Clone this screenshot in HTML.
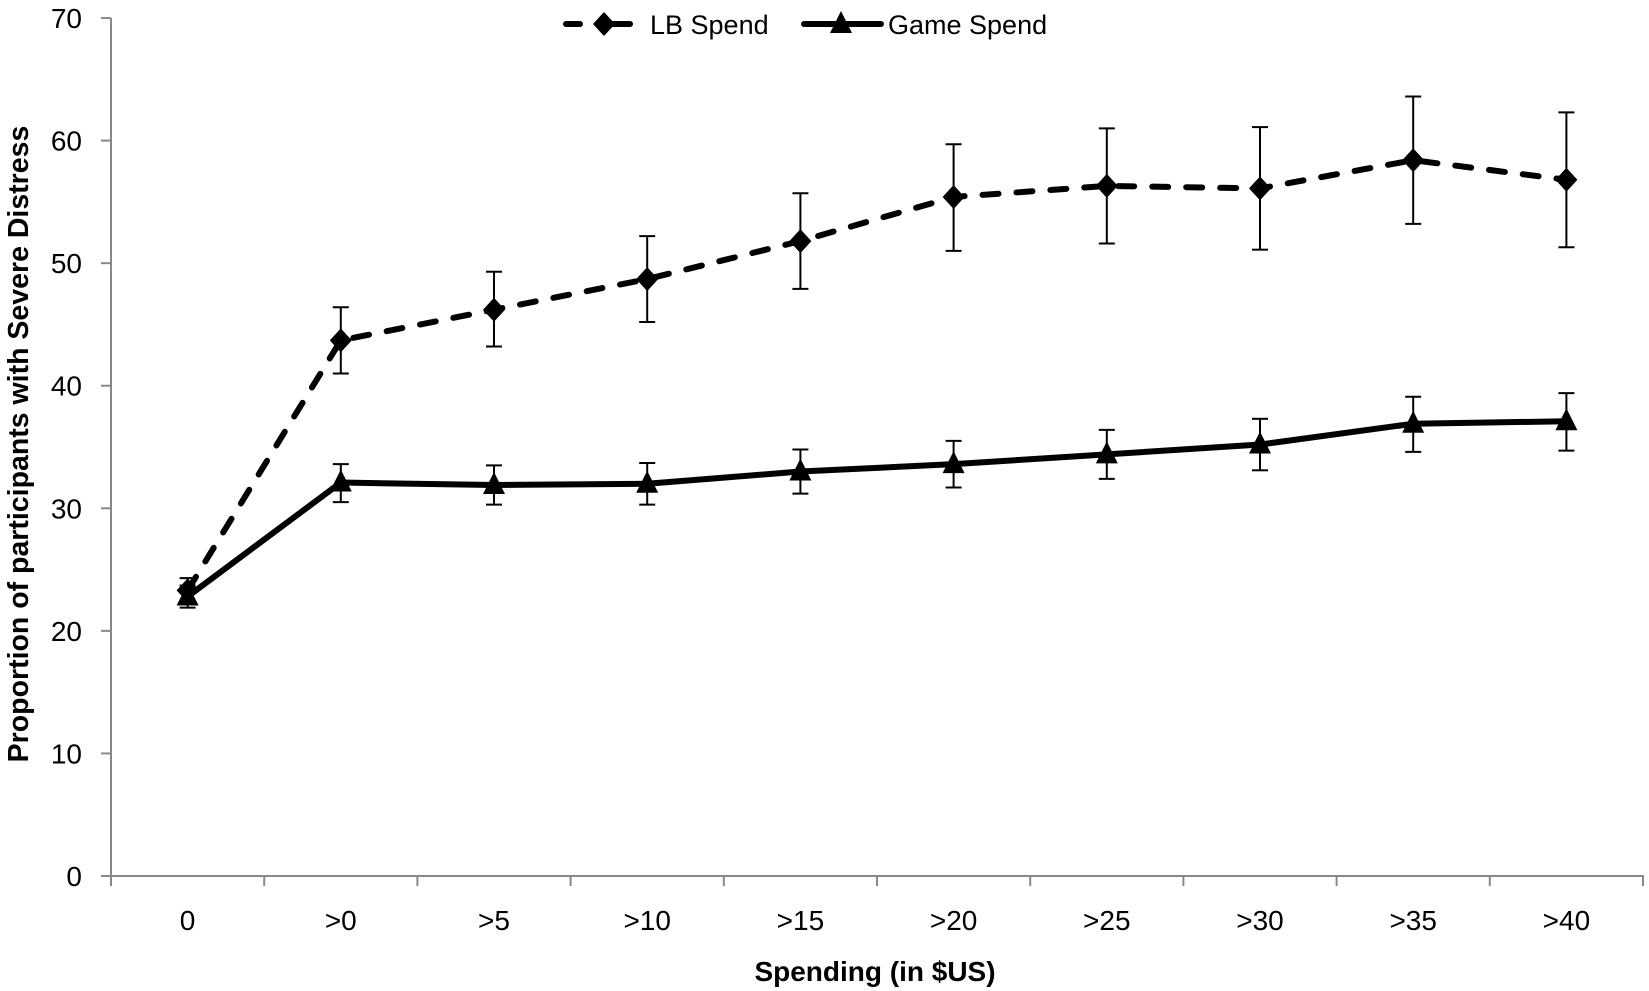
<!DOCTYPE html>
<html><head><meta charset="utf-8"><style>html,body{margin:0;padding:0;background:#fff}svg{display:block}</style></head>
<body>
<svg id="s" width="1649" height="991" xmlns="http://www.w3.org/2000/svg" font-family="Liberation Sans, sans-serif"></svg>
<script>
const s=document.getElementById('s');
const X0=111,Y0=876,W=153.2,K=12.257;
const cx=i=>X0+W/2+W*i, cy=v=>Y0-v*K;
let h='';
h+=`<line x1="${X0}" y1="18" x2="${X0}" y2="${Y0}" stroke="#888" stroke-width="2"/>`;
h+=`<line x1="${X0}" y1="${Y0}" x2="1644" y2="${Y0}" stroke="#888" stroke-width="2"/>`;
for(let v=0;v<=70;v+=10){const y=cy(v);h+=`<line x1="101" y1="${y}" x2="${X0}" y2="${y}" stroke="#888" stroke-width="2"/>`;
h+=`<text x="82" y="${y+10}" font-size="28" text-anchor="end">${v}</text>`;}
for(let i=0;i<=10;i++){const x=X0+W*i;h+=`<line x1="${x}" y1="${Y0}" x2="${x}" y2="${Y0+10}" stroke="#888" stroke-width="2"/>`;}
const labs=['0','>0','>5','>10','>15','>20','>25','>30','>35','>40'];
labs.forEach((l,i)=>h+=`<text x="${cx(i)}" y="930" font-size="28" text-anchor="middle">${l}</text>`);
h+=`<text x="875" y="981" font-size="28" font-weight="bold" text-anchor="middle">Spending (in $US)</text>`;
h+=`<text transform="translate(28,444) rotate(-90)" font-size="28.5" font-weight="bold" text-anchor="middle">Proportion of participants with Severe Distress</text>`;
const lb=[23.3,43.7,46.2,48.7,51.8,55.4,56.3,56.1,58.4,56.8];
const lbe=[[22.3,24.3],[41,46.4],[43.2,49.3],[45.2,52.2],[47.9,55.7],[51,59.7],[51.6,61],[51.1,61.1],[53.2,63.6],[51.3,62.3]];
const g=[22.8,32.1,31.9,32,33,33.6,34.4,35.2,36.9,37.1];
const ge=[[21.9,23.7],[30.5,33.6],[30.3,33.5],[30.3,33.7],[31.2,34.8],[31.7,35.5],[32.4,36.4],[33.1,37.3],[34.6,39.1],[34.7,39.4]];
function err(e){let r='';e.forEach((a,i)=>{const x=cx(i);r+=`<line x1="${x}" y1="${cy(a[0])}" x2="${x}" y2="${cy(a[1])}" stroke="#000" stroke-width="2"/><line x1="${x-8}" y1="${cy(a[0])}" x2="${x+8}" y2="${cy(a[0])}" stroke="#000" stroke-width="2"/><line x1="${x-8}" y1="${cy(a[1])}" x2="${x+8}" y2="${cy(a[1])}" stroke="#000" stroke-width="2"/>`});return r;}
h+=err(lbe)+err(ge);
const pts=a=>a.map((v,i)=>cx(i)+','+cy(v)).join(' ');
h+=`<polyline points="${pts(lb)}" fill="none" stroke="#000" stroke-width="6" stroke-dasharray="16 18" stroke-linecap="round"/>`;
h+=`<polyline points="${pts(g)}" fill="none" stroke="#000" stroke-width="6" stroke-linejoin="round"/>`;
const dia=(x,y)=>`<polygon points="${x},${y-12} ${x+11},${y} ${x},${y+12} ${x-11},${y}" fill="#000"/>`;
const tri=(x,y)=>`<polygon points="${x},${y-13} ${x+11},${y+9} ${x-11},${y+9}" fill="#000"/>`;
lb.forEach((v,i)=>h+=dia(cx(i),cy(v)));
g.forEach((v,i)=>h+=tri(cx(i),cy(v)));
h+=`<line x1="566" y1="24" x2="580" y2="24" stroke="#000" stroke-width="6" stroke-linecap="round"/><line x1="606" y1="24" x2="630" y2="24" stroke="#000" stroke-width="6" stroke-linecap="round"/>`+dia(604,24);
h+=`<text x="650" y="34" font-size="27">LB Spend</text>`;
h+=`<line x1="804" y1="24" x2="881" y2="24" stroke="#000" stroke-width="6" stroke-linecap="round"/>`+tri(841,24);
h+=`<text x="888" y="34" font-size="27">Game Spend</text>`;
s.innerHTML=h;
</script>
</body></html>
